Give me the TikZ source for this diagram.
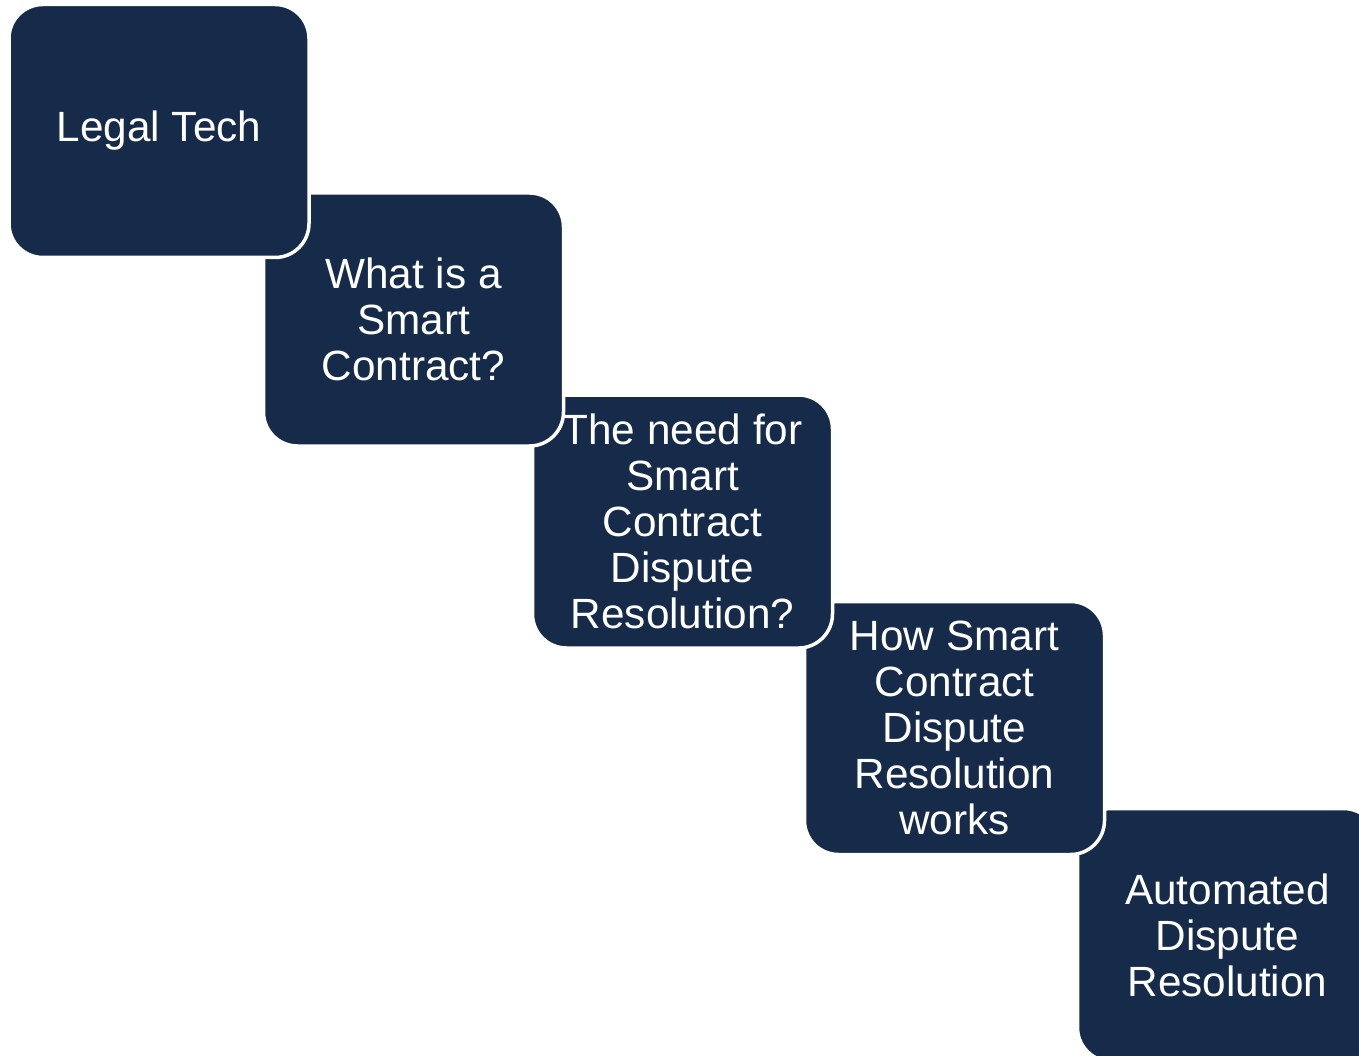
\documentclass[tikz,border=0pt]{standalone}
\usepackage{fontspec}
\setmainfont{Liberation Sans}
\definecolor{navy}{RGB}{22,42,74}

\begin{document}
\begin{tikzpicture}[x=1pt,y=-1pt,
      stepbox/.style={rectangle,rounded corners=34pt,fill=navy,draw=white,
        line width=3.5pt,minimum width=300pt,minimum height=253pt,inner sep=0pt,
        align=center,text=white,font=\fontsize{42.3}{46}\selectfont}]
      \useasboundingbox(0,0)rectangle(1359,1056);
      \clip(0,0)rectangle(1359,1056);
      % drawn from the last step up, so each box lies over the next one
      \node[stepbox](s5)at(1227.5,935){Automated\\Dispute\\Resolution};
      \node[stepbox](s4)at(954.5,728){How Smart\\Contract\\Dispute\\Resolution\\works};
      \node[stepbox](s3)at(682.5,521.5){The need for\\Smart\\Contract\\Dispute\\Resolution?};
      \node[stepbox](s2)at(413.5,319.5){What is a\\Smart\\Contract?};
      \node[stepbox](s1)at(159,131){Legal Tech};
    \end{tikzpicture}
\end{document}
